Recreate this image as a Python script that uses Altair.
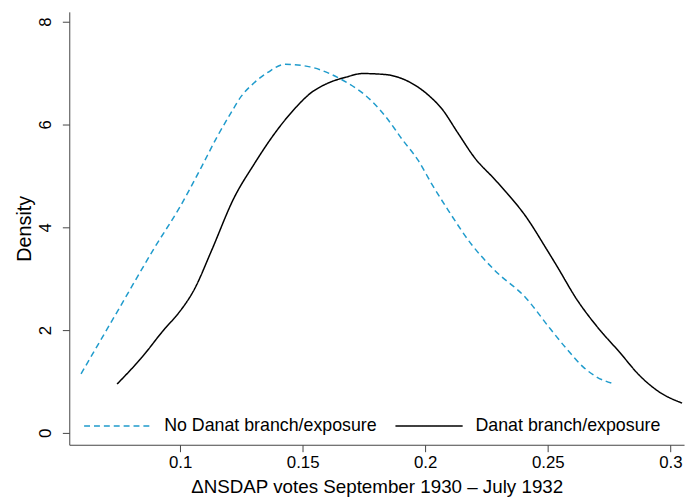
import altair as alt
import pandas as pd

series_names = ["No Danat branch/exposure", "Danat branch/exposure"]

no_danat_x = [0.0596, 0.0750, 0.0898, 0.1000, 0.1086, 0.1150, 0.1207, 0.1250, 0.1300, 0.1360,
              0.1429, 0.1530, 0.1610, 0.1664, 0.1785, 0.1839, 0.1906, 0.1973, 0.2027, 0.2094,
              0.2190, 0.2282, 0.2410, 0.2511, 0.2578, 0.2645, 0.2699, 0.2766]
no_danat_y = [1.15, 2.41, 3.62, 4.40, 5.16, 5.75, 6.22, 6.55, 6.80, 7.02,
              7.17, 7.12, 6.99, 6.86, 6.44, 6.15, 5.71, 5.29, 4.84, 4.33,
              3.66, 3.17, 2.63, 2.02, 1.63, 1.28, 1.09, 0.96]

danat_x = [0.0743, 0.0844, 0.0938, 0.0992, 0.1059, 0.1126, 0.1221, 0.1301, 0.1382, 0.1476,
           0.1530, 0.1597, 0.1677, 0.1745, 0.1839, 0.1906, 0.2013, 0.2067, 0.2134, 0.2202,
           0.2282, 0.2349, 0.2403, 0.2497, 0.2538, 0.2618, 0.2699, 0.2793, 0.2874, 0.2954,
           0.3048]
danat_y = [0.95, 1.47, 2.03, 2.32, 2.80, 3.52, 4.58, 5.22, 5.80, 6.35,
           6.60, 6.79, 6.92, 6.99, 6.97, 6.89, 6.57, 6.31, 5.83, 5.35,
           4.94, 4.58, 4.26, 3.56, 3.24, 2.60, 2.08, 1.57, 1.12, 0.80,
           0.58]

x_ticks = [0.1, 0.15, 0.2, 0.25, 0.3]
y_ticks = [0, 2, 4, 6, 8]

rows = []
for i, (xs, ys) in enumerate([(no_danat_x, no_danat_y), (danat_x, danat_y)]):
    for j, (a, b) in enumerate(zip(xs, ys)):
        rows.append({"group": series_names[i], "x": a, "y": b, "order": j})
df = pd.DataFrame(rows)

FONT = "Liberation Sans"

chart = alt.Chart(df).mark_line(interpolate="monotone", strokeWidth=1.5).encode(
    x=alt.X("x:Q",
            scale=alt.Scale(domain=[0.0548, 0.3056], nice=False, zero=False),
            axis=alt.Axis(title="ΔNSDAP votes September 1930 – July 1932",
                          values=x_ticks, format=".2~f", grid=False,
                          tickSize=7, labelPadding=3, labelFontSize=17,
                          titleFontSize=19, titleFontWeight="normal",
                          titlePadding=7, labelFlush=False)),
    y=alt.Y("y:Q",
            scale=alt.Scale(domain=[-0.23, 8.19], nice=False, zero=False),
            axis=alt.Axis(title="Density", values=y_ticks, grid=False,
                          tickSize=7, labelAngle=-90, labelAlign="center",
                          labelBaseline="middle", labelPadding=17,
                          labelFontSize=17, titleFontSize=20,
                          titleFontWeight="normal", titlePadding=2)),
    color=alt.Color("group:N",
                    scale=alt.Scale(domain=series_names, range=["#1f9bcc", "#000000"]),
                    legend=alt.Legend(title=None, orient="none", legendX=14, legendY=384,
                                      direction="horizontal", columns=2,
                                      symbolType="stroke", symbolSize=4624,
                                      symbolStrokeWidth=1.5, labelFontSize=18,
                                      labelOffset=12, columnPadding=15, padding=0,
                                      labelLimit=0)),
    strokeDash=alt.StrokeDash("group:N",
                              scale=alt.Scale(domain=series_names, range=[[6, 4], [1, 0]]),
                              legend=None),
    order="order:Q",
).properties(
    width=622, height=438,
    padding={"left": 62, "top": 1, "right": 4, "bottom": 54},
    autosize=alt.AutoSizeParams(type="none"),
).configure_view(stroke=None).configure_axis(
    labelFont=FONT, titleFont=FONT, domainColor="#444444", tickColor="#444444",
    labelColor="#000000", titleColor="#000000",
).configure_legend(labelFont=FONT, labelColor="#000000")

chart.save("out.html", embed_options={"renderer": "svg", "actions": False})
